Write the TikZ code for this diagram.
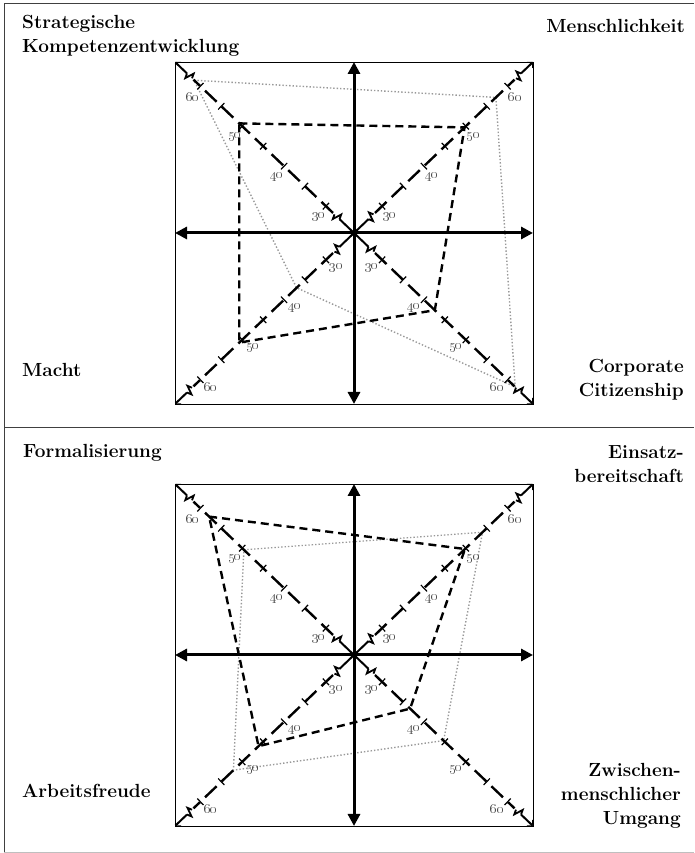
\documentclass[tikz,border=0pt]{standalone}
\usepackage{fix-cm}
\usetikzlibrary{arrows.meta,calc}
\tikzset{
  axis/.style={line width=3pt,{Triangle[length=12pt,width=12pt]}-{Triangle[length=12pt,width=12pt]}},
  diag/.style={line width=2.4pt, dash pattern=on 16pt off 7pt},
  diagsolid/.style={line width=2pt},
  brk/.style={line width=1.8pt, line join=miter},
  tickmark/.style={line width=1.2pt},
  cornertip/.style={line width=2pt,-{Straight Barb[length=4pt,width=8pt,line width=0.7pt]}},
  scalelabel/.style={text=black!70, font=\fontsize{13}{15}\selectfont, inner sep=0pt},
  dimlabel/.style={font=\fontsize{19}{24}\selectfont\bfseries, inner sep=0pt},
  profileA/.style={line width=2.4pt, dash pattern=on 8pt off 5pt},
  profileB/.style={line width=1.4pt, black!40, dash pattern=on 1.4pt off 2pt},
  declare function={f(\v)=0.157+(\v-30)*0.02337;}
}
% axes, diagonals with ticks and scale of one panel (origin = centre)
\newcommand{\radaraxes}[1]{
  \draw[line width=0.8pt] (-179,-171) rectangle (179,171);
  \foreach \ang/\side/\d in {136.31/1/tl, 43.69/-1/tr, -136.31/1/bl, -43.69/-1/br}{
    \begin{scope}[rotate=\ang]
      \draw[diagsolid] (0,0) -- (20,0);
      \draw[brk] (20,0) -- (22,-4.5) -- (25,4.5) -- (27,0);
      \draw[diag] (29,0) -- (222,0);
      \draw[brk] (224,0) -- (226,-4.5) -- (229,4.5) -- (231,0);
      \draw[cornertip] (231,0) -- (247.55,0);
      \foreach \v in {30,35,...,60}
        \draw[tickmark] ({247.55*f(\v)},-4.5) -- ({247.55*f(\v)},4.5);
      \foreach \v in {30,40,50,60}
        \node[scalelabel] (#1-\d-\v) at ({247.55*f(\v)-2},\side*13) {\oldstylenums{\v}};
    \end{scope}
  }
  \draw[axis] (0,-171) -- (0,171);
  \draw[axis] (-179,0) -- (179,0);
}
% profile polygon: top left, top right, bottom right, bottom left
\newcommand{\profile}[5]{
  \draw[#1] ({-179*f(#2)},{171*f(#2)}) -- ({179*f(#3)},{171*f(#3)})
    -- ({179*f(#4)},{-171*f(#4)}) -- ({-179*f(#5)},{-171*f(#5)}) -- cycle;
}

\begin{document}
\begin{tikzpicture}[x=1pt,y=1pt]
\useasboundingbox (0,0) rectangle (694,853);
% frame
\draw[line width=1pt, black!75] (694,849) -- (4,849) -- (4,0);
\draw[line width=1pt, black!75] (4,425) -- (694,425);
\draw[line width=0.8pt, black!25] (4,1) -- (694,1);

% upper panel
\begin{scope}[shift={(354,620)}]
  \profile{profileB}{61.5}{57.2}{61.8}{37}
  \profile{profileA}{50.7}{49.7}{42.6}{50.7}
  \radaraxes{up}
\end{scope}
\node[dimlabel, anchor=north west, align=left] (strat) at (22,838) {Strategische\\Kompetenzentwicklung};
\node[dimlabel, anchor=base east] (mensch) at (685,820) {Menschlichkeit};
\node[dimlabel, anchor=base west] (macht) at (22,476) {Macht};
\node[dimlabel, anchor=north east, align=right] (corp) at (684,494) {Corporate\\Citizenship};

% lower panel
\begin{scope}[shift={(354,198)}]
  \profile{profileB}{49.6}{54}{44.7}{52.1}
  \profile{profileA}{57.9}{49.8}{36.7}{46.1}
  \radaraxes{low}
\end{scope}
\node[dimlabel, anchor=base west] (formal) at (23,395.5) {Formalisierung};
\node[dimlabel, anchor=north east, align=right] (einsatz) at (684,408) {Einsatz-\\bereitschaft};
\node[dimlabel, anchor=base west] (arbeit) at (22,55.5) {Arbeitsfreude};
\node[dimlabel, anchor=north east, align=right] (zwischen) at (681,90) {Zwischen-\\menschlicher\\Umgang};
\end{tikzpicture}
\end{document}
